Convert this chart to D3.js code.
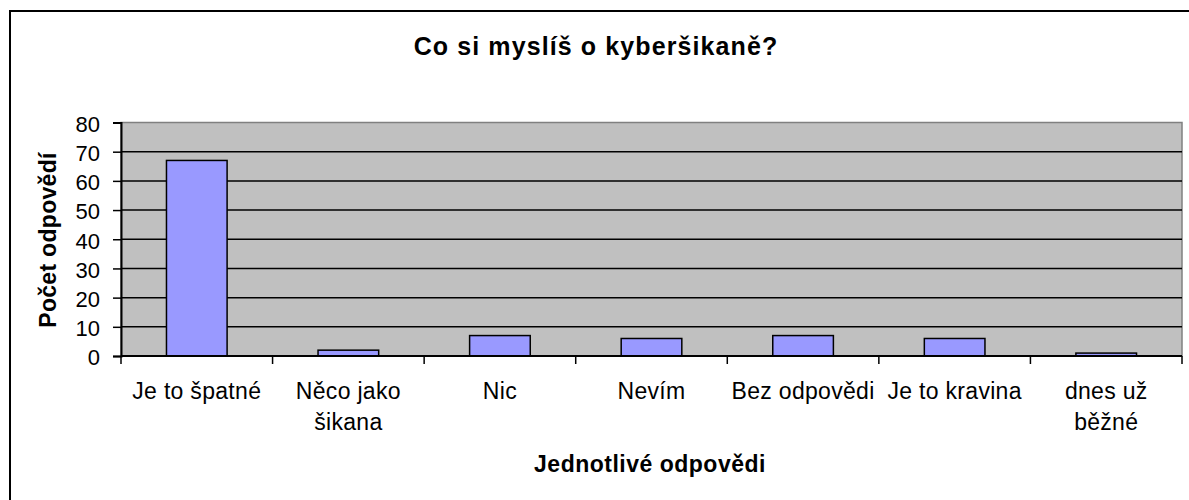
<!DOCTYPE html>
<html>
<head>
<meta charset="utf-8">
<script src="https://cdn.jsdelivr.net/npm/d3@7"></script>
<style>
body { margin: 0; background: #fff; }
svg text { font-family: "Liberation Sans", Arial, sans-serif; fill: #000; }
</style>
</head>
<body>
<div id="chart"></div>
<script>
// data
var categories = ["Je to špatné", "Něco jako šikana", "Nic", "Nevím", "Bez odpovědi", "Je to kravina", "dnes už běžné"];
var counts = [67, 2, 7, 6, 7, 6, 1];
var yTicks = [0, 10, 20, 30, 40, 50, 60, 70, 80];

var svgWidth = 1189, svgHeight = 500;
var plot = {left: 121, right: 1182, top: 122.5, bottom: 356};

var svg = d3.select("#chart").append("svg")
	.attr("width", svgWidth).attr("height", svgHeight);

// outer chart border (runs off the right/bottom edge)
svg.append("rect")
	.attr("x", 10).attr("y", 11)
	.attr("width", 1200).attr("height", 520)
	.attr("fill", "#fff").attr("stroke", "#000").attr("stroke-width", 2);

var x = d3.scaleBand().domain(categories)
	.range([plot.left, plot.right])
	.paddingInner(0.6).paddingOuter(0.3);
var y = d3.scaleLinear().domain([0, 80]).range([plot.bottom, plot.top]);

// plot area
svg.append("rect")
	.attr("x", plot.left).attr("y", plot.top)
	.attr("width", plot.right - plot.left).attr("height", plot.bottom - plot.top)
	.attr("fill", "#c0c0c0").attr("stroke", "#808080").attr("stroke-width", 1.5);

// gridlines
svg.append("g").selectAll("line")
	.data(yTicks.filter(function(d) { return d > 0 && d < 80; }))
	.enter().append("line")
	.attr("x1", plot.left).attr("x2", plot.right)
	.attr("y1", function(d) { return y(d); }).attr("y2", function(d) { return y(d); })
	.attr("stroke", "#000").attr("stroke-width", 1.5);

// bars
svg.append("g").selectAll("rect")
	.data(counts)
	.enter().append("rect")
	.attr("x", function(d, i) { return x(categories[i]); })
	.attr("y", function(d) { return y(d); })
	.attr("width", x.bandwidth())
	.attr("height", function(d) { return y(0) - y(d); })
	.attr("fill", "#9999ff").attr("stroke", "#000").attr("stroke-width", 1.5);

// y axis
var yAxis = svg.append("g")
	.attr("transform", "translate(" + plot.left + ",0)")
	.call(d3.axisLeft(y).tickValues(yTicks).tickSize(8).tickPadding(13));
yAxis.select(".domain").attr("stroke", "#000").attr("stroke-width", 2);
yAxis.selectAll(".tick line").attr("stroke", "#000").attr("stroke-width", 1.5);
yAxis.selectAll(".tick text").attr("font-size", "22px").attr("font-family", null).attr("dy", "0.4em");

// x axis line + boundary ticks
svg.append("line")
	.attr("x1", plot.left).attr("x2", plot.right)
	.attr("y1", plot.bottom).attr("y2", plot.bottom)
	.attr("stroke", "#000").attr("stroke-width", 2);
svg.append("g").selectAll("line")
	.data(d3.range(categories.length + 1))
	.enter().append("line")
	.attr("x1", function(i) { return plot.left + i * x.step(); })
	.attr("x2", function(i) { return plot.left + i * x.step(); })
	.attr("y1", plot.bottom).attr("y2", plot.bottom + 8)
	.attr("stroke", "#000").attr("stroke-width", 1.5);

// category labels, wrapped like the original
var labels = svg.append("g").selectAll("text")
	.data(categories)
	.enter().append("text")
	.attr("x", function(d) { return x(d) + x.bandwidth() / 2; })
	.attr("y", 399)
	.attr("text-anchor", "middle")
	.attr("font-size", "23px")
	.attr("letter-spacing", "0.3px");
labels.each(function(d) {
	var el = d3.select(this), words = d.split(" "), line = [];
	var tspan = el.append("tspan").attr("x", el.attr("x")).attr("dy", 0);
	words.forEach(function(w) {
		line.push(w);
		tspan.text(line.join(" "));
		if (tspan.node().getComputedTextLength() > 146 && line.length > 1) {
			line.pop();
			tspan.text(line.join(" "));
			line = [w];
			tspan = el.append("tspan").attr("x", el.attr("x")).attr("dy", 31).text(w);
		}
	});
});

// titles
svg.append("text")
	.attr("x", 596).attr("y", 55)
	.attr("text-anchor", "middle")
	.attr("font-size", "25px").attr("font-weight", "bold")
	.attr("letter-spacing", "1.1px")
	.text("Co si myslíš o kyberšikaně?");

svg.append("text")
	.attr("x", 650).attr("y", 472)
	.attr("text-anchor", "middle")
	.attr("font-size", "23px").attr("font-weight", "bold")
	.attr("letter-spacing", "0.5px")
	.text("Jednotlivé odpovědi");

svg.append("text")
	.attr("transform", "translate(56,240) rotate(-90)")
	.attr("text-anchor", "middle")
	.attr("font-size", "23px").attr("font-weight", "bold")
	.attr("letter-spacing", "0.3px")
	.text("Počet odpovědí");
</script>
</body>
</html>
